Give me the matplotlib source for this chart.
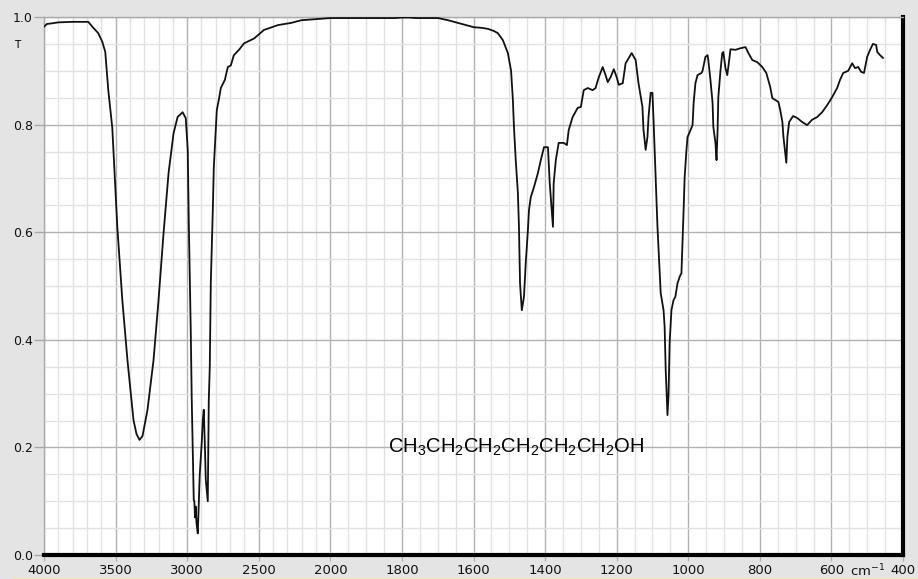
import numpy as np
import matplotlib
matplotlib.use("Agg")
import matplotlib.pyplot as plt
from matplotlib.ticker import FixedLocator, FormatStrFormatter
from matplotlib.lines import Line2D

plt.rcParams['font.family'] = ['Liberation Sans', 'DejaVu Sans']
plt.rcParams['mathtext.default'] = 'regular'

# IR spectrum of 1-hexanol (wavenumber cm-1, transmittance)
wavenumber = [
    4000, 3980, 3950, 3900, 3800, 3700, 3691, 3656, 3621, 3593, 3572, 3551,
    3523, 3488, 3453, 3417, 3375, 3354, 3333, 3312, 3277, 3235, 3200, 3165,
    3130, 3095, 3067, 3032, 3010, 2996, 2989, 2975, 2968, 2954, 2950, 2945,
    2940, 2935, 2926, 2912, 2898, 2891, 2884, 2877, 2870, 2856, 2849, 2842,
    2835, 2821, 2814, 2793, 2779, 2765, 2737, 2716, 2695, 2674, 2638, 2603,
    2533, 2463, 2365, 2274, 2203, 2000, 1900, 1820, 1800, 1780, 1760, 1699,
    1671, 1643, 1599, 1579, 1560, 1543, 1532, 1518, 1504, 1495, 1490, 1487,
    1482, 1476, 1473, 1470, 1465, 1459, 1454, 1448, 1445, 1440, 1431, 1420,
    1412, 1403, 1392, 1387, 1378, 1376, 1370, 1362, 1348, 1339, 1334, 1323,
    1309, 1300, 1292, 1281, 1267, 1259, 1250, 1239, 1231, 1225, 1217, 1208,
    1200, 1194, 1183, 1175, 1158, 1147, 1139, 1128, 1125, 1119, 1114, 1111,
    1105, 1100, 1097, 1091, 1086, 1077, 1069, 1066, 1063, 1058, 1055, 1052,
    1047, 1041, 1036, 1030, 1024, 1019, 1016, 1013, 1010, 1005, 1002, 996,
    988, 985, 980, 974, 963, 960, 952, 946, 944, 938, 932, 930,
    924, 921, 918, 916, 910, 905, 902, 896, 891, 888, 882, 868,
    854, 840, 832, 821, 807, 793, 782, 771, 765, 757, 748, 743,
    737, 734, 729, 726, 723, 718, 707, 695, 682, 668, 654, 640,
    626, 612, 598, 584, 576, 567, 553, 542, 534, 525, 517, 509,
    500, 492, 484, 475, 472, 464, 456,
]
transmittance = [
    0.982, 0.987, 0.988, 0.990, 0.991, 0.991, 0.991, 0.980, 0.970, 0.954, 0.935, 0.864,
    0.794, 0.610, 0.474, 0.362, 0.251, 0.225, 0.214, 0.221, 0.270, 0.362, 0.474, 0.598,
    0.710, 0.784, 0.814, 0.823, 0.812, 0.753, 0.623, 0.418, 0.288, 0.102, 0.100, 0.070,
    0.090, 0.060, 0.040, 0.150, 0.210, 0.250, 0.270, 0.210, 0.140, 0.100, 0.288, 0.350,
    0.505, 0.640, 0.720, 0.827, 0.846, 0.868, 0.883, 0.907, 0.910, 0.929, 0.939, 0.951,
    0.960, 0.976, 0.985, 0.989, 0.994, 0.998, 0.998, 0.998, 0.999, 0.999, 0.998, 0.998,
    0.994, 0.989, 0.981, 0.980, 0.978, 0.974, 0.970, 0.957, 0.933, 0.900, 0.846, 0.796,
    0.734, 0.673, 0.610, 0.505, 0.455, 0.480, 0.543, 0.604, 0.641, 0.665, 0.684, 0.710,
    0.734, 0.758, 0.758, 0.691, 0.610, 0.691, 0.734, 0.766, 0.766, 0.762, 0.790, 0.814,
    0.831, 0.833, 0.864, 0.868, 0.864, 0.868, 0.888, 0.907, 0.892, 0.879, 0.888, 0.903,
    0.888, 0.874, 0.877, 0.914, 0.933, 0.920, 0.877, 0.833, 0.790, 0.753, 0.777, 0.814,
    0.859, 0.859, 0.809, 0.703, 0.610, 0.487, 0.455, 0.424, 0.344, 0.260, 0.300, 0.394,
    0.455, 0.474, 0.480, 0.505, 0.517, 0.524, 0.580, 0.641, 0.703, 0.753, 0.777, 0.786,
    0.799, 0.840, 0.877, 0.892, 0.896, 0.900, 0.926, 0.929, 0.920, 0.883, 0.840, 0.796,
    0.766, 0.734, 0.790, 0.851, 0.900, 0.933, 0.935, 0.905, 0.892, 0.907, 0.940, 0.939,
    0.942, 0.944, 0.933, 0.920, 0.916, 0.907, 0.896, 0.870, 0.849, 0.846, 0.842, 0.827,
    0.805, 0.777, 0.747, 0.729, 0.777, 0.805, 0.816, 0.812, 0.805, 0.799, 0.809, 0.814,
    0.823, 0.836, 0.851, 0.868, 0.883, 0.896, 0.900, 0.914, 0.905, 0.907, 0.898, 0.896,
    0.926, 0.939, 0.950, 0.948, 0.935, 0.929, 0.924,
]

major_x = [4000, 3500, 3000, 2500, 2000, 1800, 1600, 1400, 1200, 1000, 800, 600, 400]
minor_x = list(range(4000, 2000, -100)) + list(range(2000, 399, -50))
major_y = [0.0, 0.2, 0.4, 0.6, 0.8, 1.0]
label = 'CH$_3$CH$_2$CH$_2$CH$_2$CH$_2$CH$_2$OH'


# the wavenumber axis is squeezed 2.5x above 2000 cm-1
def fwd(w):
    w = np.asarray(w, dtype=float)
    return np.where(w >= 2000, 2000 + (w - 2000) / 2.5, w)


def inv(v):
    v = np.asarray(v, dtype=float)
    return np.where(v >= 2000, 2000 + (v - 2000) * 2.5, v)


W, H = 918, 579
fig = plt.figure(figsize=(W / 100, H / 100), dpi=100, facecolor='#e4e4e4')
ax = fig.add_axes([44 / W, (H - 555) / H, (903 - 44) / W, (555 - 17) / H])
ax.set_facecolor('white')
ax.set_xscale('function', functions=(fwd, inv))
ax.set_xlim(4000, 400)
ax.set_ylim(0, 1.0)

ax.xaxis.set_major_locator(FixedLocator(major_x))
ax.xaxis.set_minor_locator(FixedLocator(minor_x))
ax.xaxis.set_major_formatter(FormatStrFormatter('%d'))
ax.yaxis.set_major_locator(FixedLocator(major_y))
ax.yaxis.set_minor_locator(FixedLocator(np.arange(0, 1.001, 0.05)))
ax.yaxis.set_major_formatter(FormatStrFormatter('%.1f'))

ax.grid(which='minor', color='#e2e2e2', lw=1.0, zorder=0)
ax.grid(which='major', color='#b2b2b2', lw=1.0, zorder=0)
ax.set_axisbelow(True)

ax.tick_params(axis='x', which='major', length=4, width=1, color='#b2b2b2',
               pad=2.5, labelsize=9.5, labelcolor='#111111')
ax.tick_params(axis='y', which='major', length=7, width=1, color='#a8a8a8',
               pad=1, labelsize=9, labelcolor='#111111')
ax.tick_params(which='minor', length=0)
for t in ax.get_xticklabels() + ax.get_yticklabels():
    t.set_family('DejaVu Sans')

for s in ['left', 'top']:
    ax.spines[s].set_color('#aaaaaa')
    ax.spines[s].set_linewidth(1)
ax.spines['bottom'].set_color('black')
ax.spines['bottom'].set_linewidth(3)
ax.spines['right'].set_color('black')
ax.spines['right'].set_linewidth(3)

ax.plot(wavenumber, transmittance, color='#111111', lw=1.3, zorder=3)

ax.text(1838, 0.20, label, fontsize=14.5, ha='left', va='center', color='black')
ax.text(500, -0.030, 'cm$^{-1}$', transform=ax.get_xaxis_transform(),
        ha='center', va='center', fontsize=9.5, color='#111111',
        family='DejaVu Sans')
fig.text(17 / W, 1 - 45 / H, 'T', fontsize=7.5, ha='center', va='center',
         family='DejaVu Sans')

fig.add_artist(Line2D([12 / W, 1], [0.5 / H, 0.5 / H], color='#eee8a0', lw=1.5))

fig.savefig('out.png', dpi=100, facecolor=fig.get_facecolor())
